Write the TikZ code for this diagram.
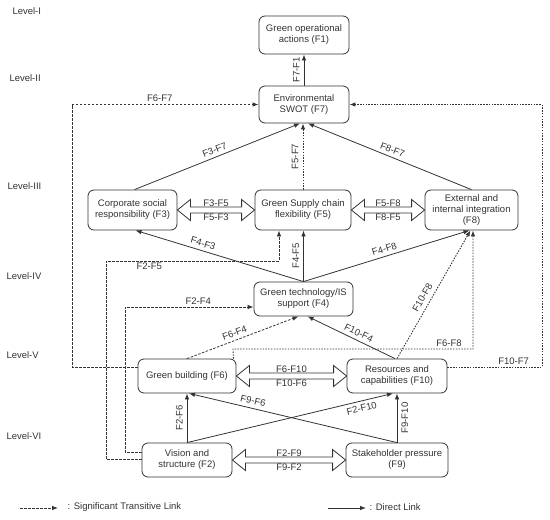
\documentclass[tikz,border=0pt]{standalone}
\usepackage{fontspec}
\setmainfont{Liberation Sans}
\usetikzlibrary{arrows.meta,calc}
\definecolor{ink}{HTML}{333333}
\tikzset{
  box/.style={draw=ink, line width=0.8pt, rounded corners=6pt, align=center, inner sep=1pt, text=ink, font=\fontsize{9.5}{11}\selectfont},
  lvl/.style={anchor=west, text=ink, font=\fontsize{9.5}{11}\selectfont},
  lab/.style={text=ink, inner sep=1.5pt, font=\fontsize{9.5}{11}\selectfont},
  direct/.style={draw=ink, line width=0.8pt, -{Latex[length=6pt,width=4.5pt]}},
  trans/.style={draw=ink, line width=0.8pt, dash pattern=on 2.5pt off 1.5pt, -{Latex[length=6pt,width=4.5pt]}},
  transdot/.style={draw=ink, line width=0.9pt, dash pattern=on 1.5pt off 1.3pt, -{Latex[length=6pt,width=4.5pt]}},
  dbl/.style={draw=ink, line width=0.8pt, line join=miter},
}
\newcommand\twoway[4]{%
  \draw[dbl] (#1.east) -- ++(13,-10.5) -- ++(0,7.5) -- ($(#2.west)+(-13,-3)$) -- ++(0,-7.5) -- (#2.west)
     -- ++(-13,10.5) -- ++(0,-7.5) -- ($(#1.east)+(13,3)$) -- ++(0,7.5) -- cycle;
  \path (#1.east) -- node[lab, above=2pt]{#3} node[lab, below=2pt]{#4} (#2.west);
}
\begin{document}
\begin{tikzpicture}[x=1pt,y=-1pt]
\useasboundingbox (0,0) rectangle (550,520);

% level labels
\node[lvl] (L1) at (9,11) {Level-I};
\node[lvl] (L2) at (6,78) {Level-II};
\node[lvl] (L3) at (4,186) {Level-III};
\node[lvl] (L4) at (3,276) {Level-IV};
\node[lvl] (L5) at (3,355) {Level-V};
\node[lvl] (L6) at (3,436) {Level-VI};

% nodes
\node[box, minimum width=90pt, minimum height=38pt] (F1) at (304,35) {Green operational\\actions (F1)};
\node[box, minimum width=90pt, minimum height=37pt] (F7) at (304,104.5) {Environmental\\SWOT (F7)};
\node[box, minimum width=89pt, minimum height=40pt] (F3) at (132.5,210) {Corporate social\\responsibility (F3)};
\node[box, minimum width=96pt, minimum height=40pt] (F5) at (303,210) {Green Supply chain\\flexibility (F5)};
\node[box, minimum width=93pt, minimum height=40pt] (F8) at (471.5,210) {External and\\internal integration\\(F8)};
\node[box, minimum width=99pt, minimum height=34pt] (F4) at (303.5,299) {Green technology/IS\\support (F4)};
\node[box, minimum width=98pt, minimum height=34pt] (F6) at (187,376) {Green building (F6)};
\node[box, minimum width=100pt, minimum height=34pt] (F10) at (397,376) {Resources and\\capabilities (F10)};
\node[box, minimum width=90pt, minimum height=34pt] (F2) at (187,460) {Vision and\\structure (F2)};
\node[box, minimum width=102pt, minimum height=34pt] (F9) at (397,460) {Stakeholder pressure\\(F9)};

% direct links
\draw[direct] (F7.north) -- node[lab, sloped, above=2.5pt]{F7-F1} (F1.south);
\draw[direct] ($(F3.north)+(2,0)$) -- node[lab, sloped, above=2pt]{F3-F7} ($(F7.south)+(-4,0)$);
\draw[direct] (F8.north) -- node[lab, sloped, above=2pt]{F8-F7} ($(F7.south)+(4,0)$);
\draw[direct] (F4.north) -- node[lab, pos=0.61, sloped, above=2pt]{F4-F3} ($(F3.south)+(3,0)$);
\draw[direct] (F4.north) -- node[lab, sloped, above=2.5pt]{F4-F5} (F4.north |- F5.south);
\draw[direct] (F4.north) -- node[lab, sloped, above=2pt]{F4-F8} ($(F8.south)+(-2,0)$);
\draw[direct] ($(F10.north)+(-2,0)$) -- node[lab, pos=0.45, sloped, above=2pt]{F10-F4} ($(F4.south)+(4,0)$);
\draw[direct] (F2.north) -- node[lab, sloped, above=2.5pt]{F2-F6} (F6.south);
\draw[direct] (F9.north) -- node[lab, sloped, below=2.5pt]{F9-F10} (F10.south);
\draw[direct] (F2.north) -- node[lab, pos=0.84, sloped, below=2pt]{F2-F10} ($(F10.south)+(-4,0)$);
\draw[direct] (F9.north) -- node[lab, pos=0.7, sloped, above=2pt]{F9-F6} ($(F6.south)+(2,0)$);

% two-way links
\twoway{F3}{F5}{F3-F5}{F5-F3}
\twoway{F5}{F8}{F5-F8}{F8-F5}
\twoway{F6}{F10}{F6-F10}{F10-F6}
\twoway{F2}{F9}{F2-F9}{F9-F2}

% transitive links
\draw[transdot] (F5.north) -- node[lab, sloped, above=2.5pt]{F5-F7} ($(F7.south)+(-1,0)$);
\draw[trans] (F6.north) -- node[lab, pos=0.45, sloped, above=2pt]{F6-F4} ($(F4.south)+(-5,0)$);
\draw[transdot] (F10.north) -- node[lab, pos=0.445, sloped, above=3pt]{F10-F8} ($(F8.south)+(-1,0)$);
\draw[transdot] ($(F6.north east)+(-3,0)$) -- (233,349) -- node[lab, pos=0.9, above]{F6-F8} (473,349) -- ($(F8.south)+(1.5,0)$);
\draw[trans] ($(F6.west)+(0,-9)$) -- (72,367) -- (72,104.5) -- node[lab, pos=0.47, above=1pt]{F6-F7} (F7.west);
\draw[transdot] ($(F10.east)+(0,-9)$) -- node[lab, pos=0.7, above]{F10-F7} (542,367) -- (542,104.5) -- (F7.east);
\draw[trans] ($(F2.west)+(0,-1)$) -- (106,459) -- (106,261) -- node[lab, pos=0.25, below]{F2-F5} (279,261) -- ($(F5.south)+(-24,0)$);
\draw[trans] ($(F2.west)+(0,-8)$) -- (125,452) -- (125,307) -- node[lab, pos=0.57, above=1pt]{F2-F4} ($(F4.west)+(0,8)$);

% legend
\coordinate (la) at (20,508);
\coordinate (lb) at (58,508);
\coordinate (lc) at (328,508);
\coordinate (ld) at (366,508);
\draw[trans] (la) -- (lb);
\node[lab, anchor=west] (lt1) at (66,507) {: Significant Transitive Link};
\draw[direct] (lc) -- (ld);
\node[lab, anchor=west] (lt2) at (368,507) {: Direct Link};
\end{tikzpicture}
\end{document}
